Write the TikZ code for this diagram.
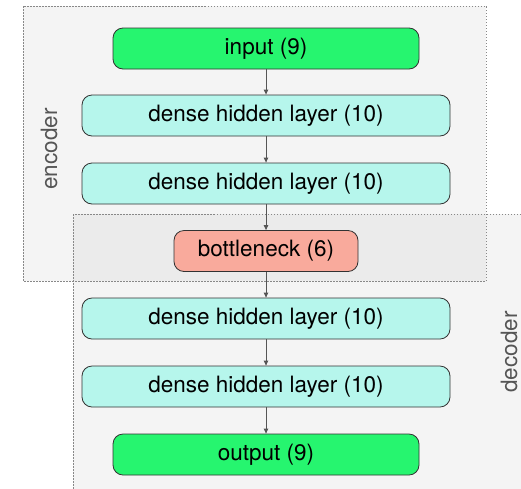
\documentclass[tikz,border=0pt]{standalone}
\usepackage{fontspec}
\setmainfont{TeX Gyre Heros}
\definecolor{aegreen}{RGB}{38,245,111}
\definecolor{aecyan}{RGB}{182,246,236}
\definecolor{aesalmon}{RGB}{249,170,156}
\definecolor{aepanel}{RGB}{244,244,244}
\definecolor{aeoverlap}{RGB}{235,235,235}
\definecolor{aeedge}{RGB}{50,50,50}
\definecolor{aegray}{RGB}{85,85,85}
\usetikzlibrary{arrows.meta,positioning}

\begin{document}
\begin{tikzpicture}[
  x=1pt, y=-1pt,
  layer/.style={
    rectangle, rounded corners=10pt,
    minimum height=41pt, inner sep=0pt,
    draw=aeedge, line width=0.8pt,
    font=\fontsize{22.5}{24}\selectfont
  },
  iolayer/.style={layer, fill=aegreen, minimum width=306pt},
  hidlayer/.style={layer, fill=aecyan, minimum width=368pt},
  codelayer/.style={layer, fill=aesalmon, minimum width=184pt},
  panel/.style={draw=aegray!70, line width=0.7pt, dash pattern=on 1.5pt off 1.5pt},
  side/.style={rotate=90, inner sep=0pt, text=aegray, font=\fontsize{22.5}{24}\selectfont},
  conn/.style={-{Triangle[length=5pt,width=4.5pt]}, line width=0.9pt, draw=aegray}
]
\useasboundingbox (0,0) rectangle (521,488);
\clip (0,0) rectangle (521,488);

% encoder / decoder panels
\fill[aepanel] (23,6) rectangle (486,281);
\fill[aepanel] (73,214) rectangle (530,500);
\fill[aeoverlap] (73,214) rectangle (486,281);
\draw[panel] (23,6) rectangle (486,281);
\draw[panel] (73,214) rectangle (530,500);

\node[side] (enc) at (49,149) {encoder};
\node[side] (dec) at (509,352) {decoder};

% layers
\node[iolayer]   (in)  at (266,48.5)  {input (9)};
\node[hidlayer]  (h1)  at (266,115.5) {dense hidden layer (10)};
\node[hidlayer]  (h2)  at (266,183.5) {dense hidden layer (10)};
\node[codelayer] (bn)  at (266,251)   {bottleneck (6)};
\node[hidlayer]  (h3)  at (266,318.5) {dense hidden layer (10)};
\node[hidlayer]  (h4)  at (266,386.5) {dense hidden layer (10)};
\node[iolayer]   (out) at (266,454.5) {output (9)};

\draw[conn] (in) -- (h1);
\draw[conn] (h1) -- (h2);
\draw[conn] (h2) -- (bn);
\draw[conn] (bn) -- (h3);
\draw[conn] (h3) -- (h4);
\draw[conn] (h4) -- (out);
\end{tikzpicture}
\end{document}
